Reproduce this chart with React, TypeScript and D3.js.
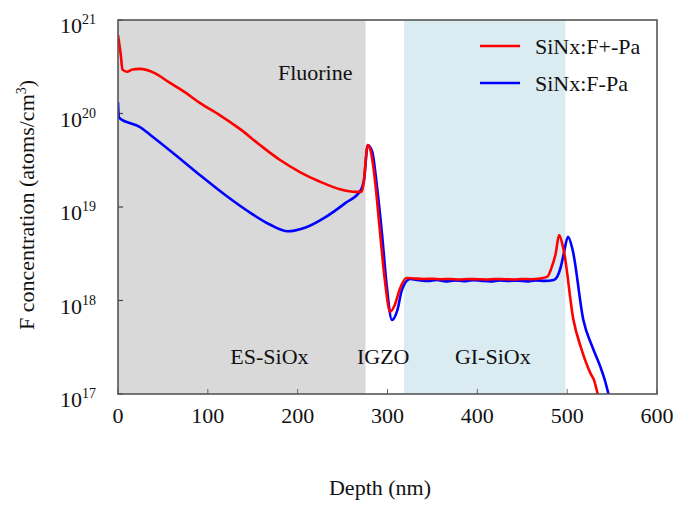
import React from "react";
import * as d3 from "d3";

const redDepth = [0, 3, 5, 10, 16, 24, 41, 57, 74, 91, 114, 136, 158, 180, 203, 225, 247, 265, 271, 274, 276, 278, 281.5, 286, 291.5, 297, 303, 308, 314, 321, 330, 340, 350, 360, 370, 380, 390, 400, 410, 420, 430, 440, 450, 460, 470, 478, 483, 487, 491, 496, 507, 516, 526, 530, 534, 540];
const redConc = [6.9e20, 4.3e20, 2.95e20, 2.8e20, 2.95e20, 3.0e20, 2.7e20, 2.15e20, 1.7e20, 1.3e20, 9.5e19, 6.8e19, 4.6e19, 3.2e19, 2.35e19, 1.86e19, 1.55e19, 1.45e19, 1.45e19, 2.0e19, 3.4e19, 4.6e19, 3.9e19, 1.95e19, 5.6e18, 1.66e18, 7.6e17, 8.9e17, 1.35e18, 1.74e18, 1.72e18, 1.7e18, 1.71e18, 1.69e18, 1.7e18, 1.68e18, 1.7e18, 1.69e18, 1.68e18, 1.7e18, 1.69e18, 1.68e18, 1.7e18, 1.69e18, 1.72e18, 1.8e18, 2.3e18, 3.1e18, 5.0e18, 3.5e18, 6.2e17, 3.0e17, 1.66e17, 1.4e17, 1.0e17, 6e16];

const blueDepth = [0, 1, 5, 13, 24, 36, 64, 91, 119, 147, 169, 189, 208, 231, 253, 270, 274, 278, 283, 288, 294, 299, 305, 311, 316, 325, 335, 345, 355, 365, 375, 385, 395, 405, 415, 425, 435, 445, 455, 465, 475, 485, 489, 493, 496, 501, 506, 518, 528, 537, 542, 546, 552];
const blueConc = [1.32e20, 9.1e19, 8.5e19, 7.9e19, 7.2e19, 5.9e19, 3.6e19, 2.2e19, 1.35e19, 8.7e18, 6.5e18, 5.5e18, 6.0e18, 7.8e18, 1.1e19, 1.5e19, 2.0e19, 4.6e19, 3.9e19, 1.74e19, 5.0e18, 1.48e18, 6.2e17, 7.9e17, 1.29e18, 1.7e18, 1.65e18, 1.62e18, 1.66e18, 1.6e18, 1.64e18, 1.61e18, 1.65e18, 1.62e18, 1.6e18, 1.64e18, 1.62e18, 1.63e18, 1.6e18, 1.64e18, 1.62e18, 1.66e18, 1.8e18, 2.3e18, 3.1e18, 4.8e18, 3.5e18, 6.2e17, 3.2e17, 1.95e17, 1.4e17, 1.0e17, 6e16];

const xTicks = [0, 100, 200, 300, 400, 500, 600];
const yTicks = [1e17, 1e18, 1e19, 1e20, 1e21];
const yTickExp = ["17", "18", "19", "20", "21"];

const regions = [
  { from: 0, to: 275.5, color: "#d9d9d9" },
  { from: 318.5, to: 498, color: "#daebf1" },
];
const regionLabels = [
  { text: "Fluorine", depth: 178, conc: 2.3e20 },
  { text: "ES-SiOx", depth: 125, conc: 2.1e17 },
  { text: "IGZO", depth: 266, conc: 2.1e17 },
  { text: "GI-SiOx", depth: 375, conc: 2.1e17 },
];
const seriesNames = ["SiNx:F+-Pa", "SiNx:F-Pa"];
const seriesColors = ["#ff0000", "#0000ff"];

const W = 675, H = 505;
const L = 118, R = 657, T = 20, B = 394;
const FONT = "'Liberation Serif', 'Times New Roman', serif";
const FS = 22;

export default function App() {
  const x = d3.scaleLinear().domain([0, 600]).range([L, R]);
  const y = d3.scaleLog().domain([1e17, 1e21]).range([B, T]);
  const line = d3
    .line<[number, number]>()
    .x((d) => x(d[0]))
    .y((d) => y(d[1]))
    .curve(d3.curveMonotoneX);
  const red = redDepth.map((d, i) => [d, redConc[i]] as [number, number]);
  const blue = blueDepth.map((d, i) => [d, blueConc[i]] as [number, number]);

  return (
    <svg width={W} height={H} style={{ position: "absolute", left: 0, top: 0, background: "#fff" }} fontFamily={FONT}>
      <defs>
        <clipPath id="plot">
          <rect x={L} y={T} width={R - L} height={B - T} />
        </clipPath>
      </defs>
      {regions.map((r, i) => (
        <rect key={i} x={x(r.from)} y={T} width={x(r.to) - x(r.from)} height={B - T} fill={r.color} />
      ))}
      {xTicks.map((t) => (
        <line key={t} x1={x(t)} x2={x(t)} y1={B} y2={B - 5} stroke="#666" strokeWidth={1} />
      ))}
      {yTicks.map((t) => (
        <line key={t} x1={L} x2={L + 5} y1={y(t)} y2={y(t)} stroke="#444" strokeWidth={1.2} />
      ))}
      {regionLabels.map((r) => (
        <text key={r.text} x={x(r.depth)} y={y(r.conc)} fontSize={FS} fill="#111">
          {r.text}
        </text>
      ))}
      <g clipPath="url(#plot)">
        <path d={line(blue) || ""} fill="none" stroke={seriesColors[1]} strokeWidth={2.6} />
        <path d={line(red) || ""} fill="none" stroke={seriesColors[0]} strokeWidth={2.6} />
      </g>
      <rect x={L} y={T} width={R - L} height={B - T} fill="none" stroke="#555" strokeWidth={1.6} />
      {yTicks.map((t, i) => (
        <text key={t} x={96} y={y(t) + 13} fontSize={FS} textAnchor="end" fill="#111">
          10
          <tspan fontSize={14} dy={-9}>{yTickExp[i]}</tspan>
        </text>
      ))}
      {xTicks.map((t) => (
        <text key={t} x={x(t)} y={423} fontSize={FS} textAnchor="middle" fill="#111">
          {t}
        </text>
      ))}
      <text x={380} y={495} fontSize={FS} textAnchor="middle" fill="#111">
        Depth (nm)
      </text>
      <text transform="translate(34,205) rotate(-90)" fontSize={FS} textAnchor="middle" fill="#111">
        F concentration (atoms/cm<tspan fontSize={14} dy={-8}>3</tspan><tspan dy={8}>)</tspan>
      </text>
      {seriesNames.map((n, i) => (
        <g key={n}>
          <line x1={480} x2={520} y1={46 + i * 37} y2={46 + i * 37} stroke={seriesColors[i]} strokeWidth={2.4} />
          <text x={535} y={54 + i * 37} fontSize={FS} fill="#111">
            {n}
          </text>
        </g>
      ))}
    </svg>
  );
}
